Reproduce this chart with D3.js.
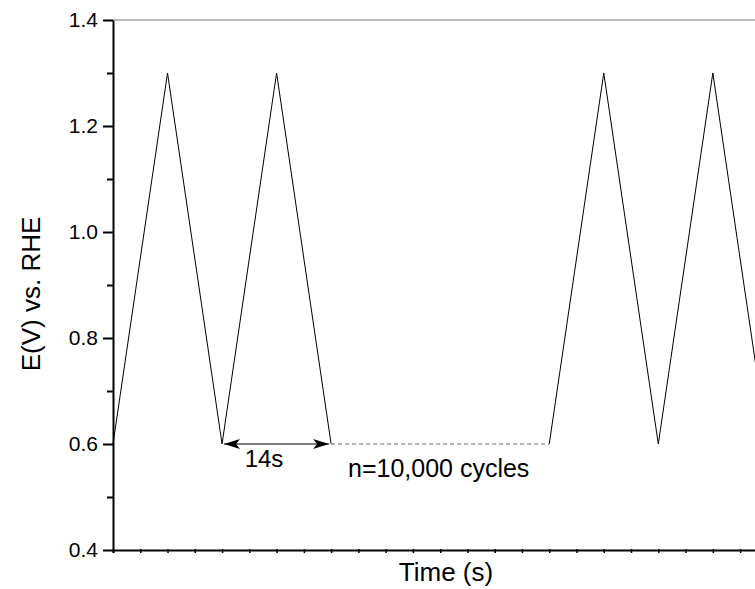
<!DOCTYPE html>
<html>
<head>
<meta charset="utf-8">
<script src="https://cdn.jsdelivr.net/npm/d3@7"></script>
<style>
  body { margin: 0; background: #fff; }
  svg { display: block; font-family: "Liberation Sans", Arial, sans-serif; }
</style>
</head>
<body>
<div id="chart"></div>
<script>
// potential cycling, before and after the 10,000 cycles
const timeA = [0, 7, 14, 21, 28];
const potentialA = [0.6, 1.3, 0.6, 1.3, 0.6];
const timeB = [56, 63, 70, 77, 84];
const potentialB = [0.6, 1.3, 0.6, 1.3, 0.6];
const gapTime = [28, 56];
const gapPotential = [0.6, 0.6];
const arrowTime = [14, 28];
const arrowPotential = 0.6;
const yTicks = [0.4, 0.6, 0.8, 1.0, 1.2, 1.4];
const yMinorTicks = [0.5, 0.7, 0.9, 1.1, 1.3];

const w = 755;
const h = 589;

const x = d3.scaleLinear().domain([0, 84]).range([113, 113 + 84 * 7.79]);
const y = d3.scaleLinear().domain([0.4, 1.4]).range([550, 20]);

const svg = d3
  .select("#chart")
  .append("svg")
  .attr("width", w)
  .attr("height", h);

const defs = svg.append("defs");
defs
  .append("marker")
  .attr("id", "head")
  .attr("viewBox", "0 0 16 10")
  .attr("refX", 16)
  .attr("refY", 5)
  .attr("markerWidth", 16)
  .attr("markerHeight", 10)
  .attr("markerUnits", "userSpaceOnUse")
  .attr("orient", "auto-start-reverse")
  .append("path")
  .attr("d", "M0,0 L16,5 L0,10 L4,5 Z")
  .attr("fill", "#000");

// top frame line
svg
  .append("line")
  .attr("x1", x(0))
  .attr("x2", w)
  .attr("y1", y(1.4))
  .attr("y2", y(1.4))
  .attr("stroke", "#777")
  .attr("stroke-width", 1);

const line = d3
  .line()
  .x((d) => x(d[0]))
  .y((d) => y(d[1]));

svg
  .append("path")
  .datum(d3.zip(timeA, potentialA))
  .attr("d", line)
  .attr("fill", "none")
  .attr("stroke", "#000")
  .attr("stroke-width", 1);

svg
  .append("path")
  .datum(d3.zip(timeB, potentialB))
  .attr("d", line)
  .attr("fill", "none")
  .attr("stroke", "#000")
  .attr("stroke-width", 1);

svg
  .append("path")
  .datum(d3.zip(gapTime, gapPotential))
  .attr("d", line)
  .attr("fill", "none")
  .attr("stroke", "#666")
  .attr("stroke-width", 1.2)
  .attr("stroke-dasharray", "4,3");

svg
  .append("line")
  .attr("x1", x(arrowTime[0]) + 2)
  .attr("x2", x(arrowTime[1]) - 2)
  .attr("y1", y(arrowPotential))
  .attr("y2", y(arrowPotential))
  .attr("stroke", "#000")
  .attr("stroke-width", 1)
  .attr("marker-start", "url(#head)")
  .attr("marker-end", "url(#head)");

svg
  .append("text")
  .attr("x", 264)
  .attr("y", 467)
  .attr("text-anchor", "middle")
  .attr("font-size", 24)
  .text("14s");

svg
  .append("text")
  .attr("x", 348)
  .attr("y", 477)
  .attr("font-size", 25)
  .text("n=10,000 cycles");

// axes
const xAxis = d3
  .axisBottom(x)
  .tickValues(d3.range(0, 85, 3.5))
  .tickSize(3)
  .tickFormat("");

svg
  .append("g")
  .attr("transform", "translate(0," + y(0.4) + ")")
  .call(xAxis)
  .call((g) => g.select(".domain").attr("stroke-width", 2))
  .call((g) => g.selectAll(".tick line").attr("stroke-width", 1.5).attr("y1", -1));

const yMinor = d3.axisLeft(y).tickValues(yMinorTicks).tickSize(6).tickFormat("");
svg
  .append("g")
  .attr("transform", "translate(" + x(0) + ",0)")
  .call(yMinor)
  .call((g) => g.select(".domain").remove())
  .call((g) => g.selectAll(".tick line").attr("stroke-width", 2));

const yAxis = d3
  .axisLeft(y)
  .tickValues(yTicks)
  .tickSize(10)
  .tickSizeOuter(0)
  .tickPadding(5)
  .tickFormat(d3.format(".1f"));

svg
  .append("g")
  .attr("transform", "translate(" + x(0) + ",0)")
  .call(yAxis)
  .call((g) => g.select(".domain").attr("stroke-width", 2))
  .call((g) => g.selectAll(".tick line").attr("stroke-width", 2))
  .call((g) =>
    g.selectAll(".tick text")
      .attr("font-size", 21)
      .attr("font-family", "Liberation Sans, Arial, sans-serif")
      .attr("fill", "#000"),
  );

svg
  .append("text")
  .attr("x", 446)
  .attr("y", 581)
  .attr("text-anchor", "middle")
  .attr("font-size", 26)
  .text("Time (s)");

svg
  .append("text")
  .attr("transform", "translate(40,294) rotate(-90)")
  .attr("text-anchor", "middle")
  .attr("font-size", 26)
  .text("E(V) vs. RHE");
</script>
</body>
</html>
